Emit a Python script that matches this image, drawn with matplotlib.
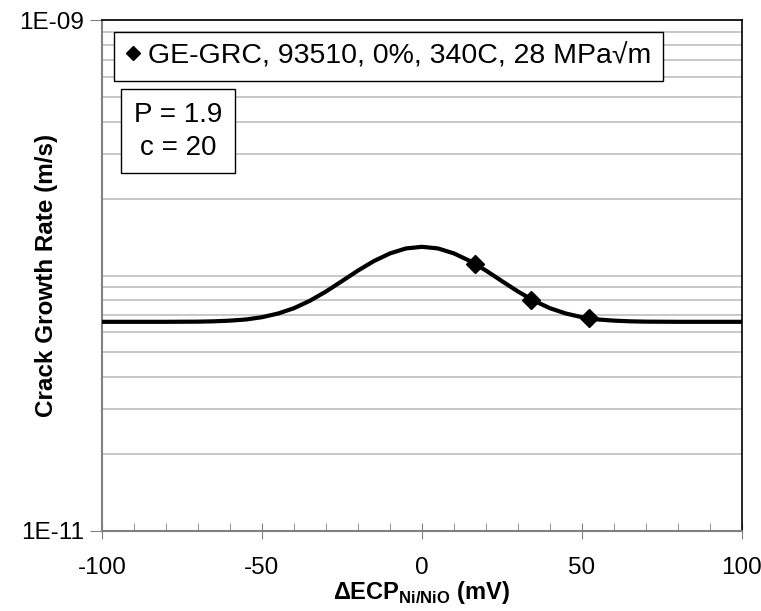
import numpy as np
import matplotlib
matplotlib.use("Agg")
import matplotlib.pyplot as plt
from matplotlib.ticker import FixedLocator, MultipleLocator, NullFormatter, LogLocator

plt.rcParams['font.family'] = ['Liberation Sans', 'DejaVu Sans']
plt.rcParams['mathtext.fontset'] = 'custom'
plt.rcParams['mathtext.rm'] = 'Liberation Sans'
plt.rcParams['mathtext.bf'] = 'Liberation Sans:bold'
plt.rcParams['axes.unicode_minus'] = False

# fitted curve (mV, m/s)
curve_x = [-100, -80, -70, -65, -60, -55, -50, -45, -40, -35, -30, -25, -20, -15, -10, -5,
           0, 5, 10, 15, 20, 25, 30, 35, 40, 45, 50, 55, 60, 65, 70, 80, 100]
curve_y = [6.59e-11, 6.59e-11, 6.60e-11, 6.62e-11, 6.66e-11, 6.73e-11, 6.87e-11, 7.10e-11,
           7.45e-11, 7.97e-11, 8.66e-11, 9.51e-11, 1.046e-10, 1.140e-10, 1.221e-10, 1.277e-10,
           1.296e-10, 1.277e-10, 1.221e-10, 1.140e-10, 1.046e-10, 9.51e-11, 8.66e-11, 7.97e-11,
           7.45e-11, 7.10e-11, 6.87e-11, 6.73e-11, 6.66e-11, 6.62e-11, 6.60e-11, 6.59e-11, 6.59e-11]

# measured points
data_x = [16.6, 34.1, 52.3]
data_y = [1.11e-10, 8.05e-11, 6.82e-11]

series_label = "GE-GRC, 93510, 0%, 340C, 28 MPa\u221am"
fit_text = "P = 1.9\nc = 20"

fig = plt.figure(figsize=(7.61, 6.11), dpi=100)
ax = fig.add_axes([0.134, 0.131, 0.841, 0.836])

ax.plot(curve_x, curve_y, color='black', lw=3, zorder=3)
ax.plot(data_x, data_y, linestyle='none', marker='D', ms=9, color='black',
        label=series_label, zorder=4)

ax.set_yscale('log')
ax.set_xlim(-100, 100)
ax.set_ylim(1e-11, 1e-9)

grid_c = '#BFBFBF'
ax.yaxis.set_major_locator(FixedLocator([1e-11, 1e-9]))
ax.yaxis.set_minor_locator(LogLocator(base=10, subs=np.arange(1, 10), numticks=20))
ax.yaxis.set_minor_formatter(NullFormatter())
ax.set_yticklabels(['1E-11', '1E-09'])
ax.yaxis.grid(True, which='both', color=grid_c, lw=1.2)
ax.set_axisbelow(True)

ax.xaxis.set_major_locator(MultipleLocator(50))
ax.xaxis.set_minor_locator(MultipleLocator(10))

ax.tick_params(axis='x', which='major', direction='inout', length=12, color='#808080',
               labelsize=17.5, pad=13)
ax.tick_params(axis='x', which='minor', direction='in', length=6, color='#808080')
ax.tick_params(axis='y', which='major', direction='out', length=9, color='#808080',
               labelsize=17.5, pad=4)
ax.tick_params(axis='y', which='minor', length=0)

for s in ['left', 'bottom']:
    ax.spines[s].set_color('#808080')
    ax.spines[s].set_linewidth(1.5)
for s in ['top', 'right']:
    ax.spines[s].set_color('black')
    ax.spines[s].set_linewidth(1.2)

ax.set_ylabel('Crack Growth Rate (m/s)', fontsize=17.5, fontweight='bold')
ax.yaxis.set_label_coords(-0.068, 0.5)
ax.set_xlabel('\u0394ECP$_{\\mathbf{Ni/NiO}}$ (mV)', fontsize=17, fontweight='bold', labelpad=0)

leg = ax.legend(loc='upper left', bbox_to_anchor=(0.019, 0.977), borderaxespad=0,
                fancybox=False, edgecolor='black', framealpha=1, fontsize=20.5,
                handlelength=0.5, handletextpad=0.3, borderpad=0.4, markerscale=0.8)
leg.get_frame().set_linewidth(1.0)

ax.text(0.119, 0.783, fit_text, transform=ax.transAxes, ha='center', va='center',
        fontsize=20, linespacing=1.35,
        bbox=dict(boxstyle='square,pad=0.45', facecolor='white', edgecolor='black', lw=1.0),
        zorder=5)

fig.savefig('out.png', dpi=100)
